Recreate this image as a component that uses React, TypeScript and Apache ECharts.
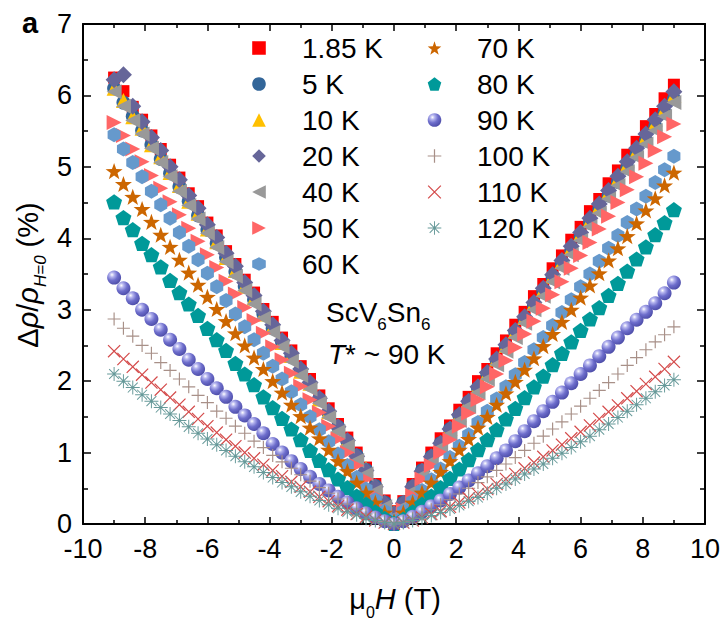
import React, { useEffect, useRef } from 'react';
import * as echarts from 'echarts';

// Magnetic field grid (T)
const fieldT = [-9, -8.7, -8.4, -8.1, -7.8, -7.5, -7.2, -6.9, -6.6, -6.3, -6, -5.7, -5.4, -5.1, -4.8, -4.5, -4.2, -3.9, -3.6, -3.3, -3, -2.7, -2.4, -2.1, -1.8, -1.5, -1.2, -0.9, -0.6, -0.3, 0, 0.3, 0.6, 0.9, 1.2, 1.5, 1.8, 2.1, 2.4, 2.7, 3, 3.3, 3.6, 3.9, 4.2, 4.5, 4.8, 5.1, 5.4, 5.7, 6, 6.3, 6.6, 6.9, 7.2, 7.5, 7.8, 8.1, 8.4, 8.7, 9];

// Δρ/ρ(H=0) in %, one array per temperature
const mr1p85K = [6.25, 6.06, 5.84, 5.66, 5.44, 5.25, 5.03, 4.85, 4.63, 4.45, 4.22, 4.04, 3.82, 3.64, 3.42, 3.24, 3.01, 2.83, 2.61, 2.43, 2.21, 2.03, 1.8, 1.62, 1.4, 1.21, 1.0, 0.79, 0.56, 0.33, 0.18, 0.32, 0.56, 0.79, 1.0, 1.2, 1.38, 1.6, 1.78, 2.0, 2.17, 2.39, 2.57, 2.79, 2.97, 3.19, 3.36, 3.58, 3.76, 3.98, 4.16, 4.38, 4.55, 4.77, 4.95, 5.17, 5.35, 5.57, 5.74, 5.96, 6.15];
const mr5K = [6.1, 5.9, 5.71, 5.51, 5.31, 5.11, 4.91, 4.72, 4.52, 4.32, 4.12, 3.93, 3.73, 3.53, 3.33, 3.14, 2.94, 2.74, 2.54, 2.34, 2.15, 1.95, 1.75, 1.55, 1.36, 1.16, 0.96, 0.76, 0.53, 0.3, 0.15, 0.3, 0.52, 0.75, 0.94, 1.13, 1.33, 1.52, 1.71, 1.9, 2.1, 2.29, 2.48, 2.68, 2.87, 3.06, 3.25, 3.45, 3.64, 3.83, 4.02, 4.22, 4.41, 4.6, 4.79, 4.99, 5.18, 5.37, 5.57, 5.76, 5.95];
const mr10K = [6.1, 5.93, 5.7, 5.54, 5.31, 5.14, 4.92, 4.74, 4.52, 4.35, 4.13, 3.95, 3.73, 3.55, 3.33, 3.16, 2.94, 2.76, 2.54, 2.36, 2.14, 1.97, 1.75, 1.57, 1.35, 1.17, 0.95, 0.78, 0.53, 0.3, 0.16, 0.3, 0.53, 0.75, 0.95, 1.14, 1.34, 1.53, 1.73, 1.92, 2.11, 2.31, 2.5, 2.7, 2.89, 3.09, 3.28, 3.47, 3.67, 3.86, 4.06, 4.25, 4.45, 4.64, 4.83, 5.03, 5.22, 5.42, 5.61, 5.81, 6.0];
const mr20K = [6.22, 6.29, 5.85, 5.63, 5.41, 5.23, 5.0, 4.82, 4.6, 4.42, 4.19, 4.01, 3.79, 3.61, 3.38, 3.2, 2.98, 2.79, 2.57, 2.39, 2.17, 1.98, 1.76, 1.58, 1.36, 1.17, 0.95, 0.75, 0.52, 0.29, 0.14, 0.29, 0.52, 0.74, 0.94, 1.13, 1.33, 1.53, 1.72, 1.92, 2.12, 2.31, 2.51, 2.71, 2.9, 3.1, 3.3, 3.49, 3.69, 3.89, 4.08, 4.28, 4.48, 4.67, 4.87, 5.07, 5.26, 5.46, 5.66, 5.85, 6.05];
const mr40K = [6.05, 5.85, 5.65, 5.46, 5.26, 5.06, 4.86, 4.66, 4.46, 4.27, 4.07, 3.87, 3.67, 3.47, 3.27, 3.08, 2.88, 2.68, 2.48, 2.28, 2.08, 1.89, 1.69, 1.49, 1.29, 1.09, 0.89, 0.7, 0.46, 0.24, 0.1, 0.24, 0.46, 0.68, 0.87, 1.07, 1.26, 1.45, 1.65, 1.84, 2.03, 2.23, 2.42, 2.61, 2.81, 3.0, 3.19, 3.39, 3.58, 3.77, 3.97, 4.16, 4.35, 4.55, 4.74, 4.93, 5.13, 5.32, 5.51, 5.71, 5.9];
const mr50K = [5.62, 5.44, 5.25, 5.07, 4.88, 4.7, 4.51, 4.33, 4.14, 3.96, 3.77, 3.59, 3.4, 3.22, 3.03, 2.85, 2.67, 2.48, 2.3, 2.11, 1.93, 1.74, 1.56, 1.37, 1.19, 1.0, 0.82, 0.63, 0.4, 0.2, 0.07, 0.2, 0.4, 0.63, 0.82, 1.0, 1.18, 1.37, 1.55, 1.74, 1.92, 2.1, 2.29, 2.47, 2.66, 2.84, 3.02, 3.21, 3.39, 3.58, 3.76, 3.94, 4.13, 4.31, 4.5, 4.68, 4.86, 5.05, 5.23, 5.42, 5.6];
const mr60K = [5.45, 5.25, 5.06, 4.86, 4.66, 4.47, 4.28, 4.08, 3.89, 3.7, 3.51, 3.32, 3.13, 2.94, 2.76, 2.58, 2.39, 2.21, 2.03, 1.85, 1.67, 1.5, 1.32, 1.15, 0.98, 0.82, 0.65, 0.49, 0.34, 0.18, 0.05, 0.18, 0.32, 0.47, 0.62, 0.77, 0.93, 1.09, 1.25, 1.42, 1.58, 1.75, 1.92, 2.09, 2.26, 2.44, 2.61, 2.78, 2.96, 3.14, 3.32, 3.5, 3.68, 3.86, 4.04, 4.22, 4.41, 4.59, 4.78, 4.96, 5.15];
const mr70K = [4.94, 4.76, 4.58, 4.41, 4.23, 4.05, 3.88, 3.7, 3.52, 3.35, 3.18, 3.01, 2.84, 2.67, 2.5, 2.33, 2.17, 2.0, 1.84, 1.67, 1.51, 1.35, 1.2, 1.04, 0.88, 0.74, 0.58, 0.44, 0.3, 0.16, 0.04, 0.16, 0.3, 0.44, 0.58, 0.73, 0.88, 1.04, 1.19, 1.35, 1.5, 1.67, 1.83, 1.99, 2.16, 2.32, 2.49, 2.66, 2.83, 3.0, 3.17, 3.34, 3.51, 3.69, 3.86, 4.03, 4.21, 4.39, 4.56, 4.74, 4.92];
const mr80K = [4.51, 4.29, 4.12, 3.93, 3.77, 3.6, 3.41, 3.24, 3.08, 2.92, 2.74, 2.58, 2.43, 2.25, 2.1, 1.95, 1.78, 1.63, 1.48, 1.33, 1.18, 1.03, 0.89, 0.76, 0.63, 0.51, 0.39, 0.28, 0.17, 0.08, 0.01, 0.07, 0.17, 0.28, 0.39, 0.51, 0.64, 0.77, 0.9, 1.04, 1.18, 1.32, 1.47, 1.62, 1.77, 1.92, 2.07, 2.23, 2.39, 2.55, 2.71, 2.87, 3.03, 3.2, 3.37, 3.54, 3.71, 3.88, 4.05, 4.22, 4.4];
const mr90K = [3.45, 3.3, 3.16, 3.0, 2.87, 2.72, 2.58, 2.45, 2.3, 2.17, 2.03, 1.9, 1.78, 1.64, 1.52, 1.4, 1.27, 1.12, 1.0, 0.88, 0.77, 0.66, 0.56, 0.47, 0.38, 0.3, 0.22, 0.15, 0.09, 0.04, 0, 0.04, 0.1, 0.17, 0.25, 0.33, 0.42, 0.51, 0.61, 0.71, 0.81, 0.92, 1.03, 1.16, 1.3, 1.44, 1.58, 1.71, 1.84, 1.97, 2.1, 2.22, 2.35, 2.48, 2.61, 2.74, 2.86, 2.97, 3.09, 3.23, 3.38];
const mr100K = [2.87, 2.74, 2.63, 2.5, 2.39, 2.26, 2.15, 2.03, 1.92, 1.8, 1.7, 1.58, 1.48, 1.37, 1.27, 1.16, 1.07, 0.96, 0.87, 0.78, 0.69, 0.6, 0.51, 0.43, 0.35, 0.28, 0.21, 0.14, 0.08, 0.03, 0, 0.03, 0.08, 0.14, 0.2, 0.27, 0.34, 0.42, 0.5, 0.58, 0.66, 0.75, 0.84, 0.93, 1.03, 1.13, 1.23, 1.33, 1.43, 1.54, 1.65, 1.76, 1.87, 1.98, 2.1, 2.22, 2.33, 2.44, 2.55, 2.65, 2.76];
const mr110K = [2.42, 2.31, 2.2, 2.09, 1.98, 1.88, 1.77, 1.67, 1.57, 1.47, 1.37, 1.28, 1.18, 1.09, 1.0, 0.92, 0.83, 0.75, 0.67, 0.59, 0.52, 0.45, 0.38, 0.32, 0.25, 0.2, 0.14, 0.1, 0.05, 0.02, 0, 0.02, 0.05, 0.09, 0.14, 0.18, 0.24, 0.3, 0.36, 0.42, 0.49, 0.56, 0.63, 0.7, 0.78, 0.86, 0.94, 1.03, 1.11, 1.2, 1.29, 1.38, 1.47, 1.57, 1.66, 1.76, 1.86, 1.96, 2.06, 2.17, 2.27];
const mr120K = [2.1, 2.0, 1.91, 1.81, 1.72, 1.63, 1.54, 1.45, 1.36, 1.27, 1.19, 1.11, 1.03, 0.95, 0.87, 0.8, 0.72, 0.65, 0.58, 0.52, 0.45, 0.39, 0.33, 0.27, 0.22, 0.17, 0.13, 0.08, 0.05, 0.02, 0, 0.02, 0.05, 0.08, 0.12, 0.16, 0.21, 0.26, 0.32, 0.37, 0.43, 0.5, 0.56, 0.63, 0.7, 0.77, 0.84, 0.92, 0.99, 1.07, 1.15, 1.23, 1.32, 1.4, 1.49, 1.58, 1.67, 1.76, 1.85, 1.94, 2.02];

const tempLabels = ['1.85 K', '5 K', '10 K', '20 K', '40 K', '50 K', '60 K', '70 K', '80 K', '90 K', '100 K', '110 K', '120 K'];
const tempValues = [mr1p85K, mr5K, mr10K, mr20K, mr40K, mr50K, mr60K, mr70K, mr80K, mr90K, mr100K, mr110K, mr120K];

const FONT = '"Liberation Sans", Arial, Helvetica, sans-serif';

const HEX = 'path://M0,-10L8.66,-5L8.66,5L0,10L-8.66,5L-8.66,-5Z';
const PENT = 'path://M0,-10L9.51,-3.09L5.88,8.09L-5.88,8.09L-9.51,-3.09Z';
const STAR = 'path://M0,-10L2.35,-3.24L9.51,-3.09L3.8,1.24L5.88,8.09L0,4L-5.88,8.09L-3.8,1.24L-9.51,-3.09L-2.35,-3.24Z';
const PLUS = 'path://M-0.9,-10L0.9,-10L0.9,-0.9L10,-0.9L10,0.9L0.9,0.9L0.9,10L-0.9,10L-0.9,0.9L-10,0.9L-10,-0.9L-0.9,-0.9Z';
const CROSS = 'path://M6.576,-7.566L7.566,-6.576L-6.576,7.566L-7.566,6.576Z M-7.566,-6.576L-6.576,-7.566L7.566,6.576L6.576,7.566Z';
const ASTER = 'path://M-0.7,-10L0.7,-10L0.7,10L-0.7,10Z M-10,-0.7L10,-0.7L10,0.7L-10,0.7Z M6.576,-7.566L7.566,-6.576L-6.576,7.566L-7.566,6.576Z M-7.566,-6.576L-6.576,-7.566L7.566,6.576L6.576,7.566Z';

export default function App() {
  const ref = useRef<HTMLDivElement>(null);

  useEffect(() => {
    if (!ref.current) return;
    const chart = echarts.init(ref.current, null, { renderer: 'svg' });

    const sphere = new echarts.graphic.RadialGradient(0.35, 0.3, 0.75, [
      { offset: 0, color: '#ffffff' },
      { offset: 0.22, color: '#b4b4ee' },
      { offset: 0.55, color: '#6e6ecc' },
      { offset: 1, color: '#4a4aa6' },
    ]);

    const markerStyles: any[] = [
      { symbol: 'rect', size: 12, color: '#FF0000', rotate: 0 },
      { symbol: 'circle', size: 14, color: '#336699', rotate: 0 },
      { symbol: 'triangle', size: 15, color: '#FFC000', rotate: 0 },
      { symbol: 'diamond', size: 17, color: '#666699', rotate: 0 },
      { symbol: 'triangle', size: 15, color: '#999999', rotate: 90 },
      { symbol: 'triangle', size: 15, color: '#FF6666', rotate: -90 },
      { symbol: HEX, size: 15, color: '#6699CC', rotate: 0 },
      { symbol: STAR, size: 17, color: '#CC6600', rotate: 0 },
      { symbol: PENT, size: 16, color: '#009999', rotate: 0 },
      { symbol: 'circle', size: 14, color: sphere, rotate: 0 },
      { symbol: PLUS, size: 13, color: '#A89088', rotate: 0 },
      { symbol: CROSS, size: 13, color: '#D44A4A', rotate: 0 },
      { symbol: ASTER, size: 14, color: '#669999', rotate: 0 },
    ];

    const series = tempLabels.map((name, k) => ({
      type: 'line',
      name,
      data: fieldT.map((h, i) => [h, tempValues[k][i]]),
      symbol: markerStyles[k].symbol,
      symbolSize: markerStyles[k].size,
      symbolRotate: markerStyles[k].rotate,
      symbolKeepAspect: true,
      showSymbol: true,
      itemStyle: { color: markerStyles[k].color },
      lineStyle: { width: 0, opacity: 0 },
      emphasis: { disabled: true },
      silent: true,
      xAxisIndex: 0,
      yAxisIndex: 0,
    }));

    const axisCommon = {
      axisLine: { show: true, onZero: false, lineStyle: { color: '#000', width: 2 } },
      splitLine: { show: false },
      minorSplitLine: { show: false },
    };

    const legendCommon = {
      orient: 'vertical',
      padding: 0,
      itemGap: 8,
      itemHeight: 17,
      selectedMode: false,
      symbolRotate: 'inherit',
      lineStyle: { opacity: 0, width: 0 },
      textStyle: { fontSize: 28, lineHeight: 28, color: '#000', fontFamily: FONT },
    };

    const option: any = {
      animation: false,
      backgroundColor: '#ffffff',
      grid: { left: 83, right: 19, top: 24, bottom: 97, containLabel: false },
      xAxis: [
        {
          type: 'value', min: -10, max: 10, interval: 2, position: 'bottom',
          ...axisCommon,
          axisTick: { show: true, inside: true, length: 7, lineStyle: { color: '#000', width: 1.5 } },
          minorTick: { show: true, splitNumber: 2, length: 4, lineStyle: { color: '#000', width: 1.5 } },
          axisLabel: { show: true, fontSize: 27, lineHeight: 20, color: '#000', fontFamily: FONT, margin: 15 },
        },
        {
          type: 'value', min: -10, max: 10, interval: 2, position: 'top',
          ...axisCommon,
          axisTick: { show: true, inside: true, length: 7, lineStyle: { color: '#000', width: 1.5 } },
          minorTick: { show: true, splitNumber: 2, length: 4, lineStyle: { color: '#000', width: 1.5 } },
          axisLabel: { show: false },
        },
      ],
      yAxis: [
        {
          type: 'value', min: 0, max: 7, interval: 1, position: 'left',
          ...axisCommon,
          axisTick: { show: true, inside: true, length: 8, lineStyle: { color: '#000', width: 1.5 } },
          minorTick: { show: true, splitNumber: 2, length: 5, lineStyle: { color: '#000', width: 1.5 } },
          axisLabel: { show: true, fontSize: 27, lineHeight: 20, color: '#000', fontFamily: FONT, margin: 11 },
        },
        {
          type: 'value', min: 0, max: 7, interval: 1, position: 'right',
          ...axisCommon,
          axisTick: { show: true, inside: true, length: 8, lineStyle: { color: '#000', width: 1.5 } },
          minorTick: { show: true, splitNumber: 2, length: 5, lineStyle: { color: '#000', width: 1.5 } },
          axisLabel: { show: false },
        },
      ],
      legend: [
        { ...legendCommon, left: 221, top: 34, itemWidth: 76, data: tempLabels.slice(0, 7) },
        { ...legendCommon, left: 397, top: 34, itemWidth: 75, data: tempLabels.slice(7) },
      ],
      series,
      graphic: [
        {
          type: 'text', x: 30, y: 23, silent: true,
          style: { text: 'a', fontSize: 29, fontWeight: 'bold', fontFamily: FONT, fill: '#000', align: 'center', verticalAlign: 'middle' },
        },
        {
          type: 'text', x: 326, y: 312, silent: true,
          style: {
            text: '{a|ScV}{s|6}{a|Sn}{s|6}', align: 'left', verticalAlign: 'middle', fill: '#000',
            rich: {
              a: { fontSize: 28, lineHeight: 28, fontFamily: FONT, fill: '#000' },
              s: { fontSize: 17, lineHeight: 17, padding: [24, 0, 0, 0], fontFamily: FONT, fill: '#000' },
            },
          },
        },
        {
          type: 'text', x: 328, y: 354, silent: true,
          style: {
            text: '{i|T}{a|* ~ 90 K}', align: 'left', verticalAlign: 'middle', fill: '#000',
            rich: {
              i: { fontSize: 28, lineHeight: 28, fontStyle: 'italic', fontFamily: FONT, fill: '#000' },
              a: { fontSize: 28, lineHeight: 28, fontFamily: FONT, fill: '#000' },
            },
          },
        },
        {
          type: 'text', x: 395, y: 599, silent: true,
          style: {
            text: '{m|μ}{s|0}{i|H}{a| (T)}', align: 'center', verticalAlign: 'middle', fill: '#000',
            rich: {
              m: { fontSize: 29, lineHeight: 29, fontFamily: FONT, fill: '#000' },
              s: { fontSize: 16, lineHeight: 16, padding: [26, 0, 0, 0], fontFamily: FONT, fill: '#000' },
              i: { fontSize: 29, lineHeight: 29, fontStyle: 'italic', fontFamily: FONT, fill: '#000' },
              a: { fontSize: 29, lineHeight: 29, fontFamily: FONT, fill: '#000' },
            },
          },
        },
        {
          type: 'text', x: 28, y: 275, rotation: Math.PI / 2, silent: true,
          style: {
            text: '{a|Δ}{r|ρ}{a|/}{r|ρ}{s|H=0}{a| (%)}', align: 'center', verticalAlign: 'middle', fill: '#000',
            rich: {
              a: { fontSize: 29, lineHeight: 29, fontFamily: FONT, fill: '#000' },
              r: { fontSize: 29, lineHeight: 29, fontStyle: 'italic', fontFamily: FONT, fill: '#000' },
              s: { fontSize: 17, lineHeight: 17, padding: [24, 0, 0, 0], fontStyle: 'italic', fontFamily: FONT, fill: '#000' },
            },
          },
        },
      ],
    };

    chart.setOption(option);
    return () => chart.dispose();
  }, []);

  return (
    <div
      ref={ref}
      style={{ position: 'absolute', left: 0, top: 0, width: 724, height: 621, background: '#fff' }}
    />
  );
}
